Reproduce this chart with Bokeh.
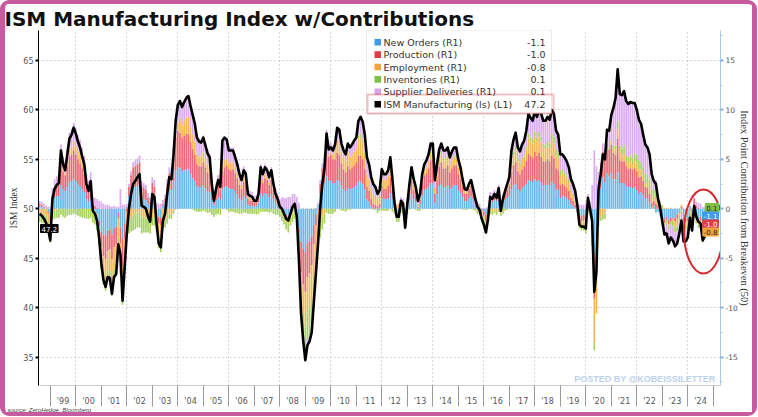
import numpy as np
from bokeh.plotting import figure
from bokeh.models import Range1d, LinearAxis, FixedTicker, Label, BoxAnnotation, Title
from bokeh.embed import file_html
from bokeh.resources import INLINE

# ---------------- data (monthly, Jul 1998 .. Aug 2024) ----------------
START_YEAR, START_MONTH = 1998, 7

ism = [
    49.5, 49.3, 49.0, 48.6, 47.9, 46.8,
    51.0, 52.0, 52.4, 52.6, 55.9, 54.5, 53.9, 55.5, 57.1, 57.5, 58.2, 57.6,
    56.8, 56.2, 55.3, 54.5, 52.5, 51.8, 52.8, 49.8, 49.5, 48.8, 47.0, 44.5,
    42.8, 42.1, 43.1, 43.0, 41.4, 43.1, 43.4, 46.4, 45.4, 40.7, 44.1, 47.5,
    50.0, 51.5, 52.5, 52.8, 53.2, 53.5, 50.3, 50.2, 50.0, 49.2, 48.7, 51.5,
    51.2, 48.5, 46.5, 46.1, 48.8, 49.5, 51.5, 53.2, 53.0, 55.5, 58.9, 60.5,
    60.9, 60.3, 60.8, 61.2, 61.4, 60.4, 59.5, 58.6, 57.2, 56.8, 56.7, 57.2,
    56.4, 55.6, 55.2, 52.5, 50.8, 52.0, 52.9, 52.2, 56.9, 57.2, 57.0, 55.9,
    55.9, 55.9, 55.2, 54.5, 53.5, 52.9, 53.9, 53.5, 51.5, 51.3, 51.2, 50.8,
    50.8, 51.5, 54.2, 53.5, 54.2, 53.9, 53.2, 53.9, 52.5, 51.5, 51.0, 50.2,
    50.0, 49.5, 49.0, 48.8, 49.5, 50.2, 50.5, 49.2, 44.8, 39.4, 36.7, 34.7,
    36.2, 36.6, 37.5, 40.5, 43.5, 46.5, 50.0, 52.5, 54.0, 57.6, 56.0, 56.2,
    55.9, 56.5, 58.2, 58.0, 56.6, 55.9, 55.5, 56.6, 56.2, 56.5, 56.9, 57.2,
    58.9, 59.3, 58.8, 57.5, 55.2, 54.5, 53.2, 52.5, 52.2, 51.5, 51.9, 54.0,
    53.5, 53.5, 53.9, 55.2, 53.0, 50.5, 49.2, 49.2, 50.8, 50.5, 48.1, 50.5,
    52.5, 54.2, 53.0, 52.2, 50.8, 51.5, 53.5, 54.5, 54.9, 55.5, 56.6, 56.6,
    52.9, 54.5, 56.0, 56.6, 55.9, 55.9, 56.2, 55.2, 55.8, 56.2, 56.2, 55.0,
    54.2, 53.0, 52.0, 51.9, 52.5, 52.9, 52.0, 51.0, 50.2, 49.9, 49.0, 48.4,
    47.6, 49.0, 51.2, 51.0, 51.5, 51.1, 52.1, 49.8, 51.0, 51.8, 52.5, 53.2,
    55.9, 57.0, 57.7, 56.2, 55.8, 56.5, 56.9, 57.9, 59.6, 59.2, 58.9, 59.9,
    59.3, 60.0, 59.6, 58.9, 58.9, 59.3, 59.0, 60.0, 59.6, 57.9, 57.5, 55.5,
    55.5, 55.2, 54.8, 54.2, 53.0, 52.5, 51.8, 50.4, 48.4, 48.2, 48.2, 48.0,
    51.1, 50.0, 48.7, 41.6, 43.7, 52.0, 53.5, 55.5, 55.0, 58.0, 57.9, 59.5,
    60.2, 61.2, 64.1, 61.6, 61.5, 61.9, 60.9, 60.6, 60.8, 60.7, 60.7, 60.0,
    59.0, 58.6, 57.5, 56.5, 56.2, 55.5, 53.5, 52.8, 52.5, 51.0, 50.1, 48.7,
    47.4, 47.5, 46.5, 47.1, 46.8, 46.2, 46.5, 47.5, 48.8, 46.7, 46.7, 47.1,
    49.1, 47.8, 50.3, 49.2, 48.7, 48.5, 46.8, 47.2,
]

new_orders = [
    0.3, 0.2, 0.1, 0.0, -0.3, -0.7,
    0.8, 1.1, 1.3, 1.3, 2.4, 2.0, 1.8, 2.2, 2.7, 2.8, 3.0, 2.8,
    2.5, 2.3, 2.0, 1.7, 1.0, 0.7, 1.1, 0.0, -0.2, -0.5, -1.2, -2.3,
    -2.6, -2.7, -2.2, -2.1, -2.6, -2.0, -1.8, -0.4, -1.9, -3.0, -1.5, 0.2,
    1.3, 1.9, 2.2, 2.2, 2.3, 2.4, 1.2, 1.0, 0.9, 0.5, 0.3, 1.4,
    1.2, 0.0, -0.8, -0.9, 0.3, 0.6, 1.5, 2.0, 1.9, 2.8, 3.9, 4.2,
    4.1, 3.8, 3.9, 4.0, 4.0, 3.5, 3.1, 2.8, 2.3, 2.2, 2.2, 2.4,
    2.1, 1.8, 1.7, 0.9, 0.4, 0.9, 1.2, 1.0, 2.0, 2.2, 2.3, 2.1,
    2.0, 2.0, 1.8, 1.5, 1.1, 0.9, 1.3, 1.1, 0.4, 0.3, 0.3, 0.2,
    0.3, 0.6, 1.6, 1.3, 1.6, 1.5, 1.2, 1.5, 1.0, 0.6, 0.4, 0.0,
    -0.2, -0.4, -0.6, -0.7, -0.4, -0.2, -0.1, -0.6, -2.0, -3.3, -4.0, -4.4,
    -3.5, -3.3, -2.8, -1.6, -0.6, 0.4, 1.5, 2.3, 2.6, 3.3, 2.8, 2.9,
    2.6, 2.6, 2.9, 2.8, 2.4, 2.0, 1.8, 2.1, 2.0, 2.1, 2.2, 2.4,
    2.8, 2.8, 2.5, 2.0, 1.0, 0.8, 0.3, 0.0, 0.0, -0.2, 0.1, 1.1,
    1.0, 1.0, 1.1, 1.6, 1.0, 0.0, -0.5, -0.5, 0.2, 0.1, -0.7, 0.3,
    0.9, 1.5, 1.0, 0.7, 0.1, 0.5, 1.4, 1.9, 2.0, 2.2, 2.6, 2.6,
    0.6, 1.5, 2.3, 2.5, 2.2, 2.2, 2.4, 2.0, 2.2, 2.4, 2.4, 1.9,
    1.6, 1.2, 0.8, 0.8, 1.1, 1.3, 1.0, 0.6, 0.3, 0.2, -0.1, -0.3,
    -0.6, -0.1, 0.8, 0.7, 0.9, 0.8, 1.1, 0.1, 0.7, 0.9, 1.1, 1.3,
    2.0, 2.4, 2.5, 2.0, 1.8, 2.1, 2.3, 2.5, 2.9, 2.8, 2.7, 3.0,
    2.8, 2.9, 2.7, 2.4, 2.4, 2.5, 2.4, 2.7, 2.5, 2.0, 1.9, 1.1,
    1.3, 1.2, 1.1, 0.9, 0.5, 0.3, 0.1, -0.3, -0.7, -0.7, -0.6, -0.8,
    0.2, 0.0, -1.5, -4.6, -3.6, 1.2, 2.0, 3.2, 2.7, 3.6, 3.3, 3.6,
    3.0, 3.0, 3.7, 2.6, 2.6, 2.6, 2.3, 2.2, 2.2, 2.1, 2.2, 1.9,
    1.5, 1.7, 1.4, 1.1, 1.1, 0.6, 0.1, 0.3, -0.4, -0.3, -0.7, -0.9,
    -1.0, -0.8, -1.1, -0.9, -1.0, -0.9, -0.6, -0.3, 0.0, -0.9, -1.0, -1.0,
    0.3, -0.5, 0.4, -0.5, -1.1, -0.8, -1.3, -1.1,
]

production = [
    0.2, 0.2, 0.1, 0.0, -0.2, -0.6,
    0.7, 1.0, 1.1, 1.2, 2.2, 1.8, 1.6, 2.1, 2.6, 2.7, 2.9, 2.7,
    2.5, 2.3, 2.1, 1.8, 1.2, 1.0, 1.3, 0.4, 0.3, 0.1, -0.6, -1.5,
    -2.2, -2.4, -2.1, -2.0, -2.5, -1.9, -1.8, -0.6, -1.6, -2.8, -1.6, -0.3,
    0.9, 1.5, 2.0, 2.1, 2.2, 2.3, 1.1, 1.1, 1.0, 0.6, 0.4, 1.2,
    1.0, 0.0, -0.7, -0.8, 0.2, 0.4, 1.0, 1.6, 1.5, 2.3, 3.3, 3.7,
    3.6, 3.4, 3.5, 3.6, 3.6, 3.3, 3.0, 2.7, 2.2, 2.1, 2.1, 2.3,
    2.1, 1.9, 1.8, 1.0, 0.5, 0.8, 1.1, 0.9, 1.8, 2.0, 2.1, 1.9,
    1.9, 2.0, 1.8, 1.6, 1.3, 1.1, 1.4, 1.3, 0.6, 0.5, 0.5, 0.4,
    0.3, 0.6, 1.5, 1.3, 1.5, 1.4, 1.2, 1.4, 0.9, 0.6, 0.4, 0.2,
    0.1, 0.0, -0.2, -0.3, 0.0, 0.3, 0.4, -0.2, -1.7, -3.1, -3.6, -4.0,
    -3.4, -3.2, -2.9, -2.0, -1.1, -0.1, 1.0, 1.8, 2.2, 3.0, 2.5, 2.6,
    2.4, 2.4, 2.8, 2.7, 2.2, 2.0, 1.9, 2.2, 2.0, 2.1, 2.2, 2.3,
    2.6, 2.6, 2.5, 2.0, 1.2, 1.0, 0.7, 0.5, 0.4, 0.3, 0.4, 1.2,
    1.0, 1.0, 1.2, 1.6, 0.9, 0.2, -0.2, -0.2, 0.2, 0.1, -0.5, 0.1,
    0.7, 1.3, 0.9, 0.6, 0.1, 0.4, 1.2, 1.5, 1.6, 1.9, 2.3, 2.3,
    0.9, 1.4, 2.0, 2.2, 1.9, 1.9, 2.0, 1.7, 1.9, 2.0, 2.0, 1.6,
    1.4, 1.0, 0.7, 0.7, 0.9, 1.0, 0.8, 0.4, 0.2, 0.1, -0.2, -0.4,
    -0.6, -0.2, 0.5, 0.5, 0.6, 0.5, 0.8, -0.1, 0.4, 0.6, 0.8, 1.0,
    1.7, 2.0, 2.2, 1.8, 1.7, 1.9, 2.0, 2.3, 2.7, 2.6, 2.5, 2.8,
    2.6, 2.8, 2.6, 2.4, 2.4, 2.5, 2.4, 2.7, 2.6, 2.1, 2.0, 1.3,
    1.2, 1.1, 1.0, 0.9, 0.6, 0.5, 0.3, -0.1, -0.5, -0.6, -0.6, -0.7,
    0.3, 0.1, -0.5, -4.5, -3.4, 1.3, 2.0, 2.6, 2.3, 3.0, 2.7, 2.9,
    2.7, 2.5, 3.4, 2.3, 2.2, 2.2, 2.0, 1.8, 1.9, 1.9, 1.9, 1.9,
    1.7, 1.6, 1.4, 1.1, 1.0, 0.9, 0.5, 0.5, 0.5, 0.4, 0.1, -0.3,
    -0.5, -0.3, -0.5, -0.4, -0.1, -0.4, -0.4, -0.1, 0.2, -0.3, -0.3, -0.2,
    -0.1, -0.6, 0.6, 0.3, 0.1, -0.4, -1.1, -1.0,
]

employment = [
    -0.5, -0.6, -0.6, -0.7, -0.8, -1.0,
    -0.3, -0.2, -0.1, 0.0, 0.5, 0.3, 0.2, 0.4, 0.7, 0.8, 0.9, 0.8,
    0.8, 0.8, 0.7, 0.6, 0.3, 0.2, 0.3, -0.3, -0.4, -0.6, -0.9, -1.3,
    -1.7, -2.0, -2.0, -2.2, -2.4, -2.3, -2.3, -1.9, -2.1, -2.5, -2.0, -1.5,
    -1.2, -0.9, -0.7, -0.5, -0.4, -0.3, -0.8, -0.9, -0.9, -1.0, -1.2, -0.9,
    -1.0, -1.2, -1.4, -1.5, -1.2, -1.1, -0.9, -0.6, -0.5, -0.2, 0.4, 0.9,
    1.2, 1.3, 1.5, 1.6, 1.7, 1.5, 1.4, 1.3, 1.1, 1.0, 1.0, 1.0,
    0.9, 0.8, 0.8, 0.4, 0.1, 0.2, 0.3, 0.2, 0.6, 0.7, 0.7, 0.6,
    0.7, 0.7, 0.6, 0.6, 0.5, 0.4, 0.5, 0.5, 0.3, 0.3, 0.2, 0.1,
    0.1, 0.1, 0.4, 0.3, 0.4, 0.3, 0.3, 0.3, 0.2, 0.1, 0.0, -0.1,
    -0.2, -0.4, -0.5, -0.5, -0.4, -0.3, -0.2, -0.4, -1.1, -2.3, -3.0, -3.6,
    -3.6, -3.6, -3.6, -3.2, -2.6, -2.0, -1.3, -0.8, -0.5, 0.2, 0.1, 0.2,
    0.5, 0.9, 1.3, 1.4, 1.2, 1.2, 1.2, 1.4, 1.3, 1.3, 1.4, 1.4,
    1.7, 1.8, 1.7, 1.5, 1.3, 1.2, 1.1, 1.0, 0.9, 0.8, 0.8, 1.0,
    0.9, 0.9, 1.0, 1.2, 0.9, 0.6, 0.4, 0.4, 0.5, 0.5, 0.0, 0.3,
    0.5, 0.6, 0.5, 0.4, 0.3, 0.3, 0.3, 0.4, 0.5, 0.6, 0.7, 0.7,
    0.6, 0.6, 0.7, 0.8, 0.8, 0.8, 0.8, 0.7, 0.8, 0.8, 0.8, 0.7,
    0.6, 0.5, 0.3, 0.2, 0.2, 0.3, 0.1, 0.0, -0.2, -0.3, -0.4, -0.5,
    -0.6, -0.4, -0.2, -0.3, -0.2, -0.3, -0.1, -0.3, -0.2, 0.0, 0.1, 0.2,
    0.8, 1.0, 1.2, 1.0, 0.9, 1.0, 1.0, 1.2, 1.5, 1.4, 1.4, 1.5,
    1.4, 1.6, 1.5, 1.4, 1.3, 1.3, 1.3, 1.5, 1.5, 1.3, 1.2, 1.0,
    1.1, 1.0, 0.9, 0.8, 0.6, 0.5, 0.4, 0.1, -0.4, -0.5, -0.6, -0.6,
    -0.4, -0.4, -1.1, -4.5, -3.6, -1.5, -0.9, -0.6, -0.5, 0.1, 0.0, 0.3,
    0.4, 0.5, 1.0, 0.9, 0.6, 0.8, 0.5, 0.6, 0.6, 0.4, 0.7, 0.8,
    0.8, 0.7, 0.6, 0.5, 0.5, 0.5, 0.3, 0.5, 0.6, 0.0, 0.1, 0.1,
    0.1, 0.1, -0.1, 0.1, -0.1, -0.5, -0.7, -0.3, 0.2, -0.6, -0.4, -0.4,
    -0.3, -0.3, -0.3, -0.5, -0.5, -0.5, -0.8, -0.8,
]

inventories = [
    -0.8, -0.8, -0.9, -1.0, -1.0, -1.1,
    -0.8, -0.8, -0.8, -0.9, -0.6, -0.8, -0.9, -0.7, -0.6, -0.6, -0.5, -0.6,
    -0.7, -0.8, -0.9, -0.9, -1.0, -1.0, -0.9, -1.1, -1.0, -1.1, -1.1, -1.1,
    -1.2, -1.2, -1.0, -1.0, -1.3, -1.0, -0.9, -0.9, -1.0, -1.4, -1.2, -1.2,
    -1.3, -1.4, -1.5, -1.6, -1.5, -1.6, -1.7, -1.5, -1.5, -1.4, -1.3, -0.8,
    -0.7, -0.9, -1.1, -1.2, -0.9, -0.8, -0.6, -0.4, -0.5, -0.3, -0.1, 0.0,
    0.2, 0.0, 0.0, 0.0, 0.0, 0.0, -0.1, -0.2, -0.3, -0.3, -0.3, -0.2,
    -0.3, -0.4, -0.4, -0.6, -0.8, -0.6, -0.5, -0.6, 0.0, 0.0, -0.1, -0.3,
    -0.3, -0.3, -0.4, -0.4, -0.5, -0.5, -0.4, -0.4, -0.5, -0.5, -0.5, -0.5,
    -0.6, -0.5, -0.3, -0.3, -0.3, -0.3, -0.4, -0.3, -0.5, -0.6, -0.6, -0.7,
    -0.8, -0.8, -0.8, -0.9, -0.9, -0.8, -0.7, -0.8, -1.0, -1.8, -2.3, -2.7,
    -2.8, -2.9, -2.9, -2.6, -2.3, -2.0, -1.6, -1.3, -1.0, -0.4, -0.5, -0.5,
    -0.5, -0.3, 0.1, 0.0, -0.2, -0.2, -0.3, -0.1, -0.1, 0.0, 0.0, 0.0,
    0.3, 0.4, 0.3, 0.2, 0.1, 0.1, 0.0, -0.1, -0.1, -0.2, -0.2, -0.2,
    -0.2, -0.2, -0.2, 0.0, -0.3, -0.5, -0.6, -0.6, -0.4, -0.5, -0.8, -0.5,
    -0.1, 0.1, 0.0, -0.1, -0.2, -0.2, 0.0, 0.1, 0.1, 0.1, 0.2, 0.2,
    0.0, 0.1, 0.2, 0.3, 0.2, 0.2, 0.2, 0.1, 0.1, 0.2, 0.2, 0.1,
    0.0, -0.1, -0.1, -0.1, 0.0, 0.0, -0.1, -0.2, -0.3, -0.3, -0.4, -0.5,
    -0.7, -0.5, -0.3, -0.3, -0.2, -0.3, -0.2, -0.3, -0.3, -0.2, -0.1, 0.0,
    0.3, 0.4, 0.4, 0.2, 0.2, 0.2, 0.2, 0.3, 0.5, 0.4, 0.4, 0.5,
    0.4, 0.5, 0.5, 0.4, 0.4, 0.5, 0.5, 0.7, 0.7, 0.6, 0.6, 0.5,
    0.4, 0.4, 0.4, 0.3, 0.2, 0.2, 0.1, 0.0, -0.4, -0.4, -0.4, -0.4,
    0.0, -0.3, -0.6, -0.7, 0.0, -0.2, -0.3, -0.5, -0.5, 0.1, 0.2, 0.2,
    0.3, 0.4, 0.8, 0.6, 0.7, 0.8, 0.6, 0.6, 0.7, 0.7, 0.8, 0.9,
    0.9, 0.7, 0.8, 0.9, 0.9, 1.0, 1.0, 0.7, 0.8, 0.6, 0.5, 0.3,
    -0.2, -0.4, -0.4, -0.3, -0.6, -0.6, -0.6, -0.6, -0.6, -0.5, -0.5, -0.5,
    -0.5, -0.4, -0.6, -0.5, -0.3, -0.3, -0.2, 0.1,
]

supplier_deliveries = [
    0.3, 0.3, 0.3, 0.3, 0.2, 0.2,
    0.6, 0.9, 0.9, 1.0, 1.4, 1.2, 1.2, 1.5, 1.7, 1.8, 1.9, 1.9,
    1.7, 1.6, 1.4, 1.3, 1.0, 0.9, 1.0, 0.8, 0.8, 0.9, 0.8, 0.7,
    0.5, 0.4, 0.4, 0.3, 0.2, 0.3, 0.2, 0.2, 2.0, 0.4, 0.4, 0.3,
    0.3, 0.4, 0.5, 0.6, 0.6, 0.7, 0.5, 0.5, 0.5, 0.5, 0.5, 0.6,
    0.7, 0.6, 0.5, 0.5, 0.4, 0.4, 0.5, 0.6, 0.6, 0.9, 1.4, 1.7,
    1.8, 1.8, 1.9, 2.0, 2.1, 2.1, 2.1, 2.0, 1.9, 1.8, 1.7, 1.7,
    1.6, 1.5, 1.3, 0.8, 0.6, 0.7, 0.8, 0.7, 2.5, 2.3, 2.0, 1.6,
    1.6, 1.5, 1.4, 1.2, 1.1, 1.0, 1.1, 1.0, 0.7, 0.7, 0.7, 0.6,
    0.7, 0.7, 1.0, 0.9, 1.0, 1.0, 0.9, 1.0, 0.9, 0.8, 0.8, 0.8,
    1.1, 1.1, 1.1, 1.2, 1.2, 1.2, 1.1, 1.2, 0.6, -0.1, -0.4, -0.6,
    -0.5, -0.4, -0.3, -0.1, 0.1, 0.2, 0.4, 0.5, 0.7, 1.5, 1.1, 1.0,
    0.9, 0.9, 1.1, 1.1, 1.0, 0.9, 0.9, 1.0, 1.0, 1.0, 1.1, 1.1,
    1.5, 1.7, 1.8, 1.8, 1.6, 1.4, 1.1, 1.1, 1.0, 0.8, 0.8, 0.9,
    0.8, 0.8, 0.8, 0.8, 0.5, 0.2, 0.1, 0.1, 0.3, 0.3, 0.1, 0.3,
    0.5, 0.7, 0.6, 0.6, 0.5, 0.5, 0.6, 0.6, 0.7, 0.7, 0.8, 0.8,
    0.8, 0.9, 0.8, 0.8, 0.8, 0.8, 0.8, 0.7, 0.8, 0.8, 0.8, 0.7,
    0.6, 0.4, 0.3, 0.3, 0.3, 0.3, 0.2, 0.2, 0.2, 0.2, 0.1, 0.1,
    0.1, 0.2, 0.4, 0.4, 0.4, 0.4, 0.5, 0.4, 0.4, 0.5, 0.6, 0.7,
    1.1, 1.2, 1.4, 1.2, 1.2, 1.3, 1.4, 1.6, 2.0, 2.0, 1.9, 2.1,
    2.1, 2.2, 2.3, 2.3, 2.4, 2.5, 2.4, 2.4, 2.3, 1.9, 1.8, 1.6,
    1.5, 1.5, 1.4, 1.3, 1.1, 1.0, 0.9, 0.7, 0.4, 0.4, 0.4, 0.5,
    1.0, 0.6, 2.4, 5.9, 4.3, 1.2, 0.7, 0.8, 1.0, 1.2, 1.7, 2.5,
    3.8, 4.8, 5.2, 5.2, 5.4, 5.5, 5.5, 5.4, 5.4, 5.6, 5.1, 4.5,
    4.1, 3.9, 3.3, 2.9, 2.7, 2.5, 1.6, 0.8, 1.0, 0.3, 0.1, -0.5,
    -1.0, -1.1, -1.4, -1.4, -1.4, -1.4, -1.2, -1.2, -1.0, -1.0, -1.1, -0.8,
    -0.3, -0.4, 0.2, 0.4, 0.5, 0.5, 0.2, 0.1,
]

series_names = ["New Orders (R1)", "Production (R1)", "Employment (R1)",
                "Inventories (R1)", "Supplier Deliveries (R1)"]
series_last = ["-1.1", "-1.0", "-0.8", "0.1", "0.1"]
ism_name = "ISM Manufacturing (ls) (L1)"
ism_last = "47.2"

left_ticks = [35, 40, 45, 50, 55, 60, 65]
right_ticks = [-15, -10, -5, 0, 5, 10, 15]
right_tick_labels = ["-15", "-10", "-5", "0", "5", "10", "15"]
right_minor = [-17.5, -12.5, -7.5, -2.5, 2.5, 7.5, 12.5, 17.5]
label_years = list(range(1999, 2025))
year_labels = ["'99", "'00", "'01", "'02", "'03", "'04", "'05", "'06", "'07",
               "'08", "'09", "'10", "'11", "'12", "'13", "'14", "'15", "'16",
               "'17", "'18", "'19", "'20", "'21", "'22", "'23", "'24"]
grid_years = list(range(2000, 2025, 2))

title_text = "ISM Manufacturing Index w/Contributions"
left_title = "ISM Index"
right_title = "Index Point Contribution from Breakeven (50)"
source_text = "source: ZeroHedge, Bloomberg"
watermark = "POSTED BY @KOBEISSILETTER"

# ---------------- styles / geometry ----------------
bar_colors = ["#6bb8ec", "#ea6773", "#f5b752", "#a7d25c", "#dbadee"]
key_colors = ["#3d9be9", "#e23b4a", "#f2a33a", "#7cc242", "#d7a6ea"]
RED = "#d42a2f"
PINK = "#c65b9f"

# outer box (border included) is W x H; the pink frame is a css border
OX, OY = 5, 4                     # left / top border -> canvas origin on page
W, H = 757, 416
X0, X1 = 1998.537, 2025.282
Y0, Y1 = 32.13, 68.03
FL, FR, FT, FB = 38, 720, 30, 385  # plot frame in page pixels


def dx(px):
    return X0 + (px - FL) * (X1 - X0) / (FR - FL)


def dy(py):
    return Y1 - (py - FT) * (Y1 - Y0) / (FB - FT)


p = figure(width=W, height=H, output_backend="svg", toolbar_location=None,
           x_range=Range1d(X0, X1), y_range=Range1d(Y0, Y1),
           min_border_left=FL - OX, min_border_right=W - (FR - OX),
           min_border_top=FT - OY, min_border_bottom=H - (FB - OY),
           styles={"border-style": "solid", "border-color": PINK,
                   "border-width": "4px 5px 4px 5px", "border-radius": "9px"})
p.extra_y_ranges = {"right": Range1d(Y0 - 50, Y1 - 50)}
p.outline_line_color = None
p.background_fill_color = "white"
p.border_fill_color = "white"

# title (above panel)
p.title.text = title_text
p.title.align = "left"
p.title.offset = 4 - FL
p.title.standoff = 0
p.title.text_font = "DejaVu Sans"
p.title.text_font_style = "bold"
p.title.text_font_size = "20px"
p.title.text_color = "#111111"

# grids
p.xgrid.ticker = FixedTicker(ticks=grid_years)
p.xgrid.grid_line_color = "#b0b0b0"
p.xgrid.grid_line_dash = "1 3"
p.ygrid.grid_line_color = "#b0b0b0"
p.ygrid.grid_line_dash = "1 3"

# left axis
ya = p.yaxis[0]
ya.ticker = FixedTicker(ticks=left_ticks)
ya.axis_line_color = "black"
ya.major_tick_line_color = "black"
ya.major_tick_line_width = 2
ya.major_tick_out = 3
ya.major_tick_in = 0
ya.minor_tick_line_color = None
ya.major_label_text_font = "DejaVu Sans"
ya.major_label_text_font_size = "8px"
ya.major_label_text_color = "#555555"
ya.major_label_standoff = 2
ya.axis_label = left_title
ya.axis_label_text_font = "Liberation Serif"
ya.axis_label_text_font_style = "normal"
ya.axis_label_text_font_size = "9.5px"
ya.axis_label_text_color = "#333333"
ya.axis_label_standoff = 1

# right axis
yr = LinearAxis(y_range_name="right",
                ticker=FixedTicker(ticks=right_ticks, minor_ticks=right_minor))
yr.major_label_overrides = {t: s for t, s in zip(right_ticks, right_tick_labels)}
yr.axis_line_color = "#a9c9e6"
yr.major_tick_line_color = "#7fb0dc"
yr.major_tick_line_width = 2
yr.major_tick_out = 3
yr.major_tick_in = 0
yr.minor_tick_line_color = "#a9c9e6"
yr.minor_tick_out = 2
yr.minor_tick_in = 0
yr.major_label_text_font = "DejaVu Sans"
yr.major_label_text_font_size = "7.5px"
yr.major_label_text_color = "#555555"
yr.major_label_standoff = 2
yr.axis_label = right_title
yr.axis_label_text_font = "Liberation Serif"
yr.axis_label_text_font_style = "normal"
yr.axis_label_text_font_size = "10.5px"
yr.axis_label_text_color = "#333333"
yr.axis_label_standoff = -2
p.add_layout(yr, "right")

# bottom axis: labels mid-year, separators at year boundaries
xa = p.xaxis[0]
mid = [y + 0.5 for y in label_years]
xa.ticker = FixedTicker(ticks=mid, minor_ticks=list(range(1999, 2026)))
xa.major_label_overrides = {m: lab for m, lab in zip(mid, year_labels)}
xa.major_tick_line_color = None
xa.major_tick_out = 0
xa.major_tick_in = 0
xa.minor_tick_line_color = "#9a9a9a"
xa.minor_tick_out = 21
xa.minor_tick_in = 0
xa.axis_line_color = "#d0d0d0"
xa.major_label_text_font = "DejaVu Sans"
xa.major_label_text_font_size = "8px"
xa.major_label_text_color = "#555555"
xa.major_label_standoff = -10

# source note under the axis
p.add_layout(Title(text=source_text, align="left", offset=7 - FL, standoff=-4,
                   vertical_align="top",
                   text_font="Liberation Sans", text_font_style="italic",
                   text_font_size="6px", text_color="#444444"), "below")

# ---------------- stacked contribution bars ----------------
n = len(ism)
xs = START_YEAR + (START_MONTH + np.arange(n)) / 12.0   # month-end positions
pos_base = np.zeros(n)
neg_base = np.zeros(n)
for vals, col in zip([new_orders, production, employment, inventories, supplier_deliveries],
                     bar_colors):
    v = np.asarray(vals, dtype=float)
    pos = np.clip(v, 0, None)
    neg = np.clip(v, None, 0)
    bottom = np.where(v >= 0, pos_base, neg_base + neg)
    top = np.where(v >= 0, pos_base + pos, neg_base)
    pos_base = pos_base + pos
    neg_base = neg_base + neg
    p.vbar(x=xs, bottom=bottom, top=top, width=0.8 / 12, fill_color=col,
           line_color=None, y_range_name="right")

# ISM line
p.line(xs, ism, line_color="black", line_width=2.6, line_join="round")

# red ellipse highlight
p.ellipse(x=[dx(703)], y=[dy(231)], width=39, height=84,
          width_units="screen", height_units="screen",
          fill_color=None, line_color=RED, line_width=2)

# ---------------- legend box ----------------
p.add_layout(BoxAnnotation(left=dx(366), right=dx(551), top=dy(30), bottom=dy(113),
                           fill_color="white", fill_alpha=1.0,
                           line_color="#b5b5b5", line_width=1))
row_y = [41.7, 54.1, 66.5, 78.9, 91.3, 103.7]
names = series_names + [ism_name]
vals_txt = series_last + [ism_last]
cols = key_colors + ["#000000"]
for ry, nm, vt, c in zip(row_y, names, vals_txt, cols):
    p.add_layout(BoxAnnotation(left=dx(374), right=dx(380.5), top=dy(ry - 3.3),
                               bottom=dy(ry + 3.3), fill_color=c, fill_alpha=1.0,
                               line_color=None))
    p.add_layout(Label(x=dx(383), y=dy(ry), text=nm, text_font="DejaVu Sans",
                       text_font_size="9.5px", text_color="#333333",
                       text_baseline="middle", text_align="left"))
    p.add_layout(Label(x=dx(545), y=dy(ry), text=vt, text_font="DejaVu Sans",
                       text_font_size="9.5px", text_color="#333333",
                       text_baseline="middle", text_align="right"))
p.add_layout(BoxAnnotation(left=dx(367), right=dx(553), top=dy(94), bottom=dy(113),
                           fill_color=None, line_color=RED, line_width=2))

# watermark
p.add_layout(Label(x=dx(715), y=dy(378), text=watermark, text_font="Liberation Sans",
                   text_font_style="bold", text_font_size="9px", text_color="#bcd2ee",
                   text_align="right", text_baseline="middle"))

# value tags (kept inside the plotting frame, next to the axes)
p.add_layout(Label(x=dx(40), y=dy(228), text=ism_last, text_font="DejaVu Sans",
                   text_font_size="7px", text_color="white", text_align="left",
                   text_baseline="middle", background_fill_color="black",
                   border_line_color="black", padding=1))
tag_specs = [(4, 207), (3, 207), (0, 215.5), (1, 223.5), (2, 231.5)]
tag_text_col = ["white", "white", "#222222", "#222222", "#222222"]
for idx, py in tag_specs:
    p.add_layout(Label(x=dx(718), y=dy(py), text=series_last[idx], text_font="DejaVu Sans",
                       text_font_size="7px", text_color=tag_text_col[idx], text_align="right",
                       text_baseline="middle", background_fill_color=key_colors[idx],
                       border_line_color=key_colors[idx], padding=1))

open("out.html", "w").write(file_html(p, INLINE))
